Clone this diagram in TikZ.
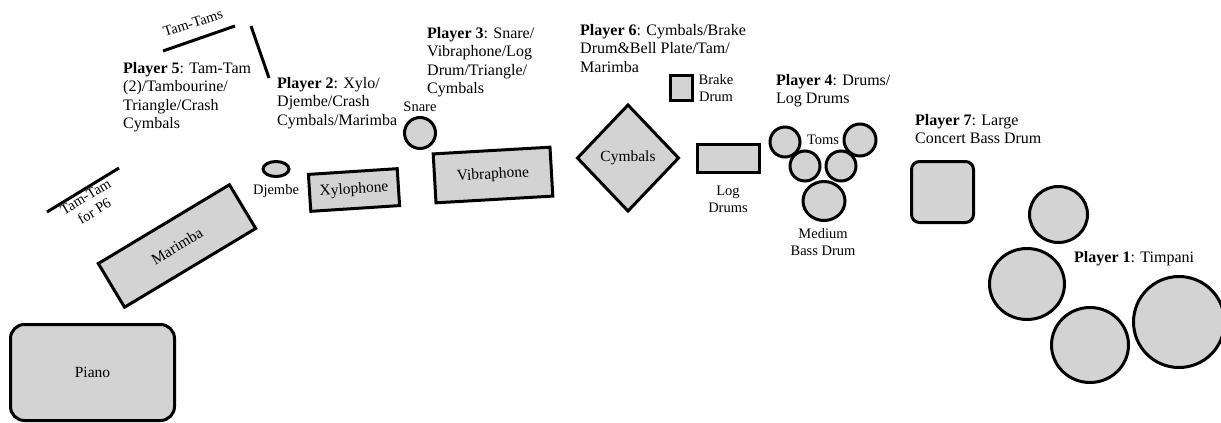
\documentclass[tikz,border=0pt]{standalone}
\usepackage{fontspec}
\setmainfont{Liberation Serif}
\usetikzlibrary{shapes.geometric}
\definecolor{instfill}{HTML}{D3D3D3}
\tikzset{
  inst/.style={draw=black, fill=instfill, line width=3pt, inner sep=0pt, outer sep=0pt,
    font=\fontsize{15.5}{18}\selectfont},
  box/.style={inst, rectangle},
  drum/.style={inst, circle},
  oval/.style={inst, ellipse},
  lbl/.style={inner sep=0pt, align=center, font=\fontsize{14.5}{17}\selectfont},
  player/.style={inner sep=0pt, anchor=north west, align=left, font=\fontsize{16}{18.4}\selectfont},
  stand/.style={line width=3pt}
}
\begin{document}
\begin{tikzpicture}[x=1pt, y=-1pt]
\useasboundingbox (0,0) rectangle (1221,423);

% Tam-tam stands
\coordinate (tt1a) at (163,51);
\coordinate (tt1b) at (235,26);
\coordinate (tt2a) at (251,26);
\coordinate (tt2b) at (269,78);
\coordinate (tt3a) at (47,212);
\coordinate (tt3b) at (119,168);
\draw[stand] (tt1a) -- (tt1b);
\draw[stand] (tt2a) -- (tt2b);
\draw[stand] (tt3a) -- (tt3b);
\node[lbl, rotate=18] (ttlbl) at (193,23) {Tam-Tams};
\node[lbl, rotate=31] (ttp6) at (90,204) {Tam-Tam\\for P6};

% Player texts
\node[player] (p5) at (123,62) {\textbf{Player 5}: Tam-Tam\\(2)/Tambourine/\\Triangle/Crash\\Cymbals};
\node[player] (p2) at (277,77) {\textbf{Player 2}: Xylo/\\Djembe/Crash\\Cymbals/Marimba};
\node[player] (p3) at (427,27) {\textbf{Player 3}: Snare/\\Vibraphone/Log\\Drum/Triangle/\\Cymbals};
\node[player] (p6) at (580,24) {\textbf{Player 6}: Cymbals/Brake\\Drum\&Bell Plate/Tam/\\Marimba};
\node[player] (p4) at (776,74) {\textbf{Player 4}: Drums/\\Log Drums};
\node[player] (p7) at (915,114) {\textbf{Player 7}: Large\\Concert Bass Drum};
\node[player] (p1) at (1074,251) {\textbf{Player 1}: Timpani};

% Piano and Marimba
\node[box, rounded corners=14pt, minimum width=164pt, minimum height=96pt] (piano) at (92.5,372.5) {Piano};
\node[box, rotate=31, minimum width=153pt, minimum height=51pt] (marimba) at (177,246) {Marimba};

% Djembe and Xylophone
\node[oval, minimum width=26pt, minimum height=15pt] (djembe) at (276,169) {};
\node[lbl] (djlbl) at (276,191) {Djembe};
\node[box, rotate=3.7, minimum width=89pt, minimum height=37pt] (xylo) at (354,190) {Xylophone};

% Snare and Vibraphone
\node[drum, minimum size=31pt] (snare) at (420,133) {};
\node[lbl] (snlbl) at (420,107) {Snare};
\node[box, rotate=3.3, minimum width=117pt, minimum height=49pt] (vib) at (493,175) {Vibraphone};

% Cymbals, brake drum, log drums
\node[inst, diamond, minimum width=101pt, minimum height=106pt] (cym) at (628,158) {Cymbals};
\node[box, minimum width=22pt, minimum height=25pt] (brake) at (681.5,88) {};
\node[lbl] (brlbl) at (716,88) {Brake\\Drum};
\node[box, minimum width=62pt, minimum height=28pt] (log) at (728.5,158.5) {};
\node[lbl] (loglbl) at (728,199) {Log\\Drums};

% Toms and medium bass drum
\node[drum, minimum size=30pt] (tom2) at (805,166) {};
\node[drum, minimum size=30pt] (tom3) at (841,166) {};
\node[drum, minimum size=30pt] (tom1) at (785,142) {};
\node[drum, minimum size=32pt] (tom4) at (860,140) {};
\node[oval, minimum width=42pt, minimum height=39pt] (mbd) at (824,201) {};
\node[lbl] (tomlbl) at (823,140) {Toms};
\node[lbl] (mbdlbl) at (823,242) {Medium\\Bass Drum};

% Large concert bass drum
\node[box, rounded corners=8pt, minimum width=62pt, minimum height=61pt] (lbd) at (942.5,192) {};

% Timpani
\node[oval, minimum width=58pt, minimum height=56pt] (tp1) at (1058.5,214.5) {};
\node[oval, minimum width=75pt, minimum height=71pt] (tp2) at (1027,284) {};
\node[oval, minimum width=77pt, minimum height=75pt] (tp3) at (1090,345) {};
\node[oval, minimum width=91pt, minimum height=91pt] (tp4) at (1179,322) {};
\end{tikzpicture}
\end{document}
